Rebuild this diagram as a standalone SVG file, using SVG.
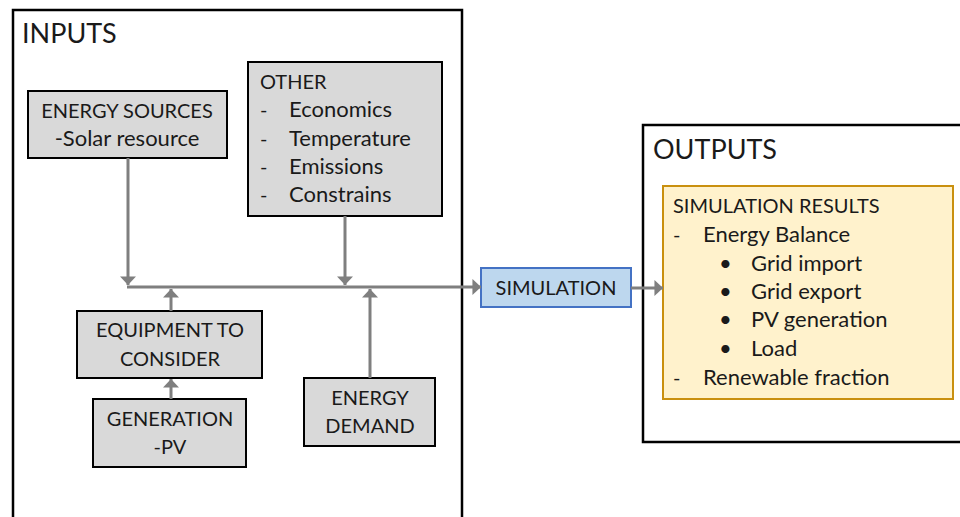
<svg xmlns="http://www.w3.org/2000/svg" width="960" height="517" viewBox="0 0 960 517">
<defs>
<style>
text{font-family:Lato,"Liberation Sans",sans-serif;fill:#1a1a1a;}
.big{font-size:27px;}
.t{font-size:20px;}
.m{font-size:22px;}
.grey{fill:#d9d9d9;stroke:#000;stroke-width:2;}
.frame{fill:#fff;stroke:#000;stroke-width:2.5;}
.conn{stroke:#7f7f7f;stroke-width:3;fill:none;}
.c{text-anchor:middle;}
</style>
<marker id="ah" markerUnits="userSpaceOnUse" markerWidth="10" markerHeight="16" viewBox="0 0 8 15" refX="8" refY="7.5" orient="auto">
<path d="M0,0 L8,7.5 L0,15 Z" fill="#7f7f7f"/>
</marker>
</defs>
<rect width="960" height="517" fill="#fff"/>
<g id="inputs">
<rect class="frame" x="13" y="10" width="449" height="530"/>
<text class="big" x="22" y="43">INPUTS</text>
</g>
<g id="outputs">
<rect class="frame" x="643" y="125" width="340" height="317"/>
<text class="big" x="653" y="159">OUTPUTS</text>
</g>
<g id="energy-sources">
<rect class="grey" x="28" y="91" width="199" height="67"/>
<text class="t c" x="127" y="118">ENERGY SOURCES</text>
<text class="m c" x="127" y="146">-Solar resource</text>
</g>
<g id="other">
<rect class="grey" x="248" y="62" width="194" height="154"/>
<text class="t" x="260" y="89">OTHER</text>
<text class="t" x="260" y="117">-</text><text class="m" x="289" y="117">Economics</text>
<text class="t" x="260" y="146">-</text><text class="m" x="289" y="146">Temperature</text>
<text class="t" x="260" y="174">-</text><text class="m" x="289" y="174">Emissions</text>
<text class="t" x="260" y="202">-</text><text class="m" x="289" y="202">Constrains</text>
</g>
<g id="equipment">
<rect class="grey" x="77" y="311" width="185" height="67"/>
<text class="t c" x="170" y="337">EQUIPMENT TO</text>
<text class="t c" x="170" y="366">CONSIDER</text>
</g>
<g id="generation">
<rect class="grey" x="93" y="399" width="153" height="68"/>
<text class="t c" x="170" y="426">GENERATION</text>
<text class="t c" x="170" y="454">-PV</text>
</g>
<g id="energy-demand">
<rect class="grey" x="304" y="378" width="131" height="68"/>
<text class="t c" x="370" y="405">ENERGY</text>
<text class="t c" x="370" y="433">DEMAND</text>
</g>
<g id="simulation">
<rect x="481" y="268" width="150" height="39" fill="#bdd7ee" stroke="#4472c4" stroke-width="2"/>
<text class="t c" x="556" y="295">SIMULATION</text>
</g>
<g id="results">
<rect x="663" y="186" width="290" height="213" fill="#fff2cc" stroke="#c9900f" stroke-width="2"/>
<text class="t" x="673" y="213">SIMULATION RESULTS</text>
<text class="t" x="673" y="242">-</text><text class="m" x="703" y="242">Energy Balance</text>
<text class="m" x="719" y="271">•</text><text class="m" x="751" y="271">Grid import</text>
<text class="m" x="719" y="299">•</text><text class="m" x="751" y="299">Grid export</text>
<text class="m" x="719" y="327">•</text><text class="m" x="751" y="327">PV generation</text>
<text class="m" x="719" y="356">•</text><text class="m" x="751" y="356">Load</text>
<text class="t" x="673" y="385">-</text><text class="m" x="703" y="385">Renewable fraction</text>
</g>
<g id="connectors">
<line class="conn" x1="128" y1="158" x2="128" y2="285" marker-end="url(#ah)"/>
<line class="conn" x1="345" y1="216" x2="345" y2="285" marker-end="url(#ah)"/>
<line class="conn" x1="127" y1="287" x2="481" y2="287" marker-end="url(#ah)"/>
<line class="conn" x1="171" y1="311" x2="171" y2="289" marker-end="url(#ah)"/>
<line class="conn" x1="171" y1="399" x2="171" y2="379" marker-end="url(#ah)"/>
<line class="conn" x1="370" y1="378" x2="370" y2="289" marker-end="url(#ah)"/>
<line class="conn" x1="631" y1="288" x2="663" y2="288" marker-end="url(#ah)"/>
</g>
</svg>
